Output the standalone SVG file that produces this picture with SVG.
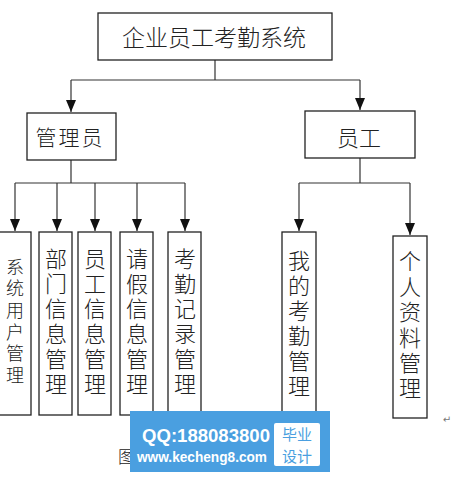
<svg xmlns="http://www.w3.org/2000/svg" width="461" height="477" viewBox="0 0 461 477">
<style>
.box{fill:#fff;stroke:#222;stroke-width:1.3}
.ln{fill:none;stroke:#333;stroke-width:1.2}
.t{font-family:"Noto Sans CJK SC","Noto Sans",sans-serif;fill:#222;font-weight:300}
.v{font-family:"Noto Sans CJK SC",sans-serif;fill:#222;font-weight:300;writing-mode:vertical-rl;text-orientation:upright;font-size:22px;letter-spacing:3px}
.wm{font-family:"Liberation Sans",Arial,sans-serif;fill:#fff;font-weight:bold}
.bs{font-family:"Noto Sans CJK SC",sans-serif;font-size:15px;fill:#4a9fe0;text-anchor:middle;dominant-baseline:central}
</style>
<defs>
<marker id="ah" viewBox="0 0 12 10" refX="12" refY="5" markerWidth="12" markerHeight="10" markerUnits="userSpaceOnUse" orient="auto">
<path d="M0,0 L12,5 L0,10 Z" fill="#111"/>
</marker>
</defs>
<rect width="461" height="477" fill="#fff"/>
<g id="connectors">
<path class="ln" d="M215,60 V80 M71,80 H360"/>
<path class="ln" d="M71,80 V112" marker-end="url(#ah)"/>
<path class="ln" d="M360,80 V110" marker-end="url(#ah)"/>
<path class="ln" d="M71,160 V183 M15,183 H185"/>
<path class="ln" d="M15,183 V231" marker-end="url(#ah)"/>
<path class="ln" d="M57,183 V231" marker-end="url(#ah)"/>
<path class="ln" d="M95,183 V231" marker-end="url(#ah)"/>
<path class="ln" d="M137,183 V231" marker-end="url(#ah)"/>
<path class="ln" d="M185,183 V231" marker-end="url(#ah)"/>
<path class="ln" d="M360,158 V183 M299,183 H410"/>
<path class="ln" d="M299,183 V231" marker-end="url(#ah)"/>
<path class="ln" d="M410,183 V235" marker-end="url(#ah)"/>
</g>
<g id="root">
<rect class="box" x="98" y="13" width="234" height="47"/>
<text class="t" x="214" y="36" font-size="23" text-anchor="middle" dominant-baseline="central">企业员工考勤系统</text>
</g>
<g id="admin">
<rect class="box" x="27" y="113" width="89" height="47"/>
<text class="t" x="70" y="136" font-size="21" text-anchor="middle" dominant-baseline="central" letter-spacing="2">管理员</text>
</g>
<g id="employee">
<rect class="box" x="305" y="111" width="110" height="47"/>
<text class="t" x="359" y="136" font-size="22" text-anchor="middle" dominant-baseline="central">员工</text>
</g>
<g id="m1">
<rect class="box" x="-5" y="232" width="36" height="183"/>
<text class="v" x="15" y="258" style="font-size:18px;letter-spacing:3.6px">系统用户管理</text>
</g>
<g id="m2">
<rect class="box" x="39" y="232" width="33" height="183"/>
<text class="v" x="56" y="248">部门信息管理</text>
</g>
<g id="m3">
<rect class="box" x="78" y="232" width="33" height="183"/>
<text class="v" x="95" y="248">员工信息管理</text>
</g>
<g id="m4">
<rect class="box" x="120" y="232" width="33" height="183"/>
<text class="v" x="137" y="248">请假信息管理</text>
</g>
<g id="m5">
<rect class="box" x="168" y="232" width="33" height="183"/>
<text class="v" x="185" y="248">考勤记录管理</text>
</g>
<g id="m6">
<rect class="box" x="282" y="232" width="34" height="184"/>
<text class="v" x="299" y="250">我的考勤管理</text>
</g>
<g id="m7">
<rect class="box" x="393" y="236" width="34" height="182"/>
<text class="v" x="410" y="250" style="letter-spacing:3.4px">个人资料管理</text>
</g>
<text x="447" y="423" font-family="'DejaVu Sans',sans-serif" font-size="10" fill="#777" text-anchor="middle">↵</text>
<text class="t" x="118" y="455" font-size="17" dominant-baseline="central">图</text>
<g id="watermark">
<rect x="130" y="411" width="200" height="61" fill="#4a9fe0"/>
<text class="wm" x="142" y="442" font-size="19" textLength="128" lengthAdjust="spacingAndGlyphs">QQ:188083800</text>
<text class="wm" x="137" y="462" font-size="15" textLength="130" lengthAdjust="spacingAndGlyphs">www.kecheng8.com</text>
<rect x="274" y="423" width="46" height="43" rx="2" fill="#fff"/>
<text class="bs" x="297" y="433.5">毕业</text>
<text class="bs" x="297" y="455.5">设计</text>
</g>
</svg>
